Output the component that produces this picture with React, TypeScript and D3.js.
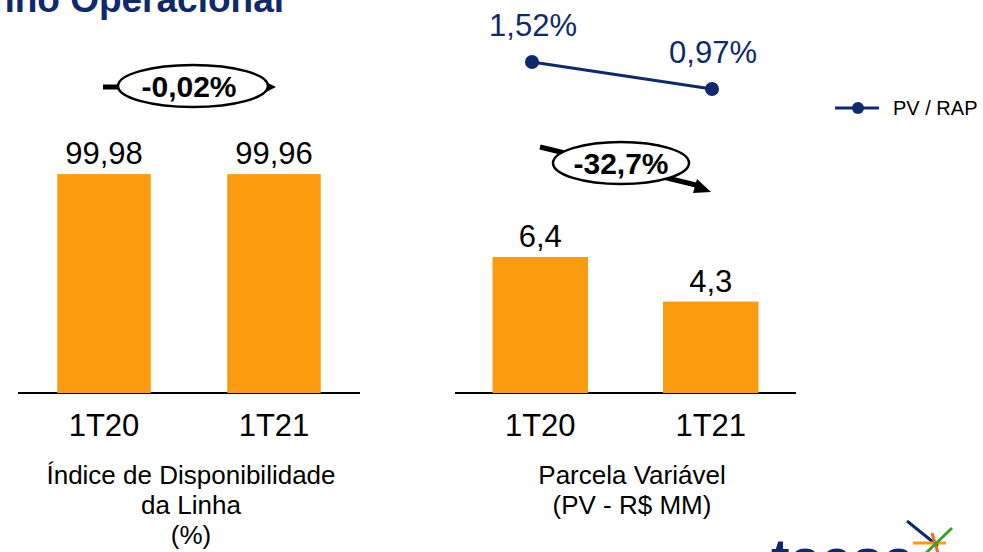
import React from "react";
import * as d3 from "d3";

const categories = ["1T20", "1T21"];
const disponibilidade = [99.98, 99.96];
const disponibilidadeLabels = ["99,98", "99,96"];
const parcelaVariavel = [6.4, 4.3];
const parcelaLabels = ["6,4", "4,3"];
const pvRap = [1.52, 0.97];
const pvRapLabels = ["1,52%", "0,97%"];
const deltaLeft = "-0,02%";
const deltaRight = "-32,7%";
const titleLeft = ["Índice de Disponibilidade", "da Linha", "(%)"];
const titleRight = ["Parcela Variável", "(PV - R$ MM)"];
const legendLabel = "PV / RAP";
const pageTitle = "Desempenho Operacional";

const W = 983;
const H = 552;
const ORANGE = "#FA9C0E";
const NAVY = "#0E2A6C";
const FONT = "Liberation Sans, Arial, sans-serif";

export default function App() {
  const baseY = 393;
  const xL = d3.scaleBand<string>().domain(categories).range([19, 359]).paddingInner(0.45).paddingOuter(0.225);
  const xR = d3.scaleBand<string>().domain(categories).range([455, 796]).paddingInner(0.44).paddingOuter(0.22);
  const yL = d3.scaleLinear().domain([0, 100]).range([baseY, 174.04]);
  const yR = d3.scaleLinear().domain([0, 6.4]).range([baseY, 257]);
  const xLine = d3.scalePoint<string>().domain(categories).range([532, 712]);
  const yLine = d3.scaleLinear().domain([0.97, 1.52]).range([89, 62]);
  const line = d3
    .line<number>()
    .x((_, i) => xLine(categories[i]) as number)
    .y((d) => yLine(d));

  return (
    <svg width={W} height={H} style={{ position: "absolute", left: 0, top: 0, background: "#fff" }} fontFamily={FONT}>
      {/* page title, cropped at top */}
      <text x={284} y={12} textAnchor="end" fontSize={37} fontWeight="bold" fill={NAVY}>
        {pageTitle}
      </text>

      {/* Left chart */}
      <line x1={18} x2={360} y1={baseY} y2={baseY} stroke="#000" strokeWidth={2} />
      {categories.map((c, i) => (
        <g key={"l" + c}>
          <rect x={xL(c)} y={yL(disponibilidade[i])} width={xL.bandwidth()} height={baseY - yL(disponibilidade[i])} fill={ORANGE} />
          <text x={(xL(c) as number) + xL.bandwidth() / 2} y={yL(disponibilidade[i]) - 10} textAnchor="middle" fontSize={31} fill="#000">
            {disponibilidadeLabels[i]}
          </text>
          <text x={(xL(c) as number) + xL.bandwidth() / 2} y={436} textAnchor="middle" fontSize={31} fill="#000">
            {c}
          </text>
        </g>
      ))}
      {titleLeft.map((t, i) => (
        <text key={t} x={191} y={484 + i * 30} textAnchor="middle" fontSize={26} fill="#000">
          {t}
        </text>
      ))}
      {/* left delta */}
      <line x1={103} x2={120} y1={87} y2={87} stroke="#000" strokeWidth={5} />
      <path d="M262,80 L276,87 L262,94 z" fill="#000" />
      <ellipse cx={193} cy={86} rx={75} ry={21} fill="#fff" stroke="#000" strokeWidth={2.5} />
      <text x={189} y={97} textAnchor="middle" fontSize={30} fontWeight="bold" fill="#000">
        {deltaLeft}
      </text>

      {/* Right chart */}
      <line x1={455} x2={796} y1={baseY} y2={baseY} stroke="#000" strokeWidth={2} />
      {categories.map((c, i) => (
        <g key={"r" + c}>
          <rect x={xR(c)} y={yR(parcelaVariavel[i])} width={xR.bandwidth()} height={baseY - yR(parcelaVariavel[i])} fill={ORANGE} />
          <text x={(xR(c) as number) + xR.bandwidth() / 2} y={yR(parcelaVariavel[i]) - 10} textAnchor="middle" fontSize={31} fill="#000">
            {parcelaLabels[i]}
          </text>
          <text x={(xR(c) as number) + xR.bandwidth() / 2} y={436} textAnchor="middle" fontSize={31} fill="#000">
            {c}
          </text>
        </g>
      ))}
      {titleRight.map((t, i) => (
        <text key={t} x={632} y={484 + i * 30} textAnchor="middle" fontSize={26} fill="#000">
          {t}
        </text>
      ))}
      {/* right delta */}
      <line x1={540} y1={147} x2={700} y2={186} stroke="#000" strokeWidth={5} />
      <path d="M697,179 L711,192 L693,193 z" fill="#000" />
      <ellipse cx={621} cy={163} rx={68} ry={21} fill="#fff" stroke="#000" strokeWidth={2.5} />
      <text x={621} y={174} textAnchor="middle" fontSize={30} fontWeight="bold" fill="#000">
        {deltaRight}
      </text>

      {/* PV/RAP line */}
      <path d={line(pvRap) || ""} fill="none" stroke={NAVY} strokeWidth={3} />
      {pvRap.map((v, i) => (
        <g key={"p" + i}>
          <circle cx={xLine(categories[i])} cy={yLine(v)} r={7} fill={NAVY} />
          <text x={(xLine(categories[i]) as number) + 1} y={yLine(v) - 26} textAnchor="middle" fontSize={31} fill={NAVY}>
            {pvRapLabels[i]}
          </text>
        </g>
      ))}

      {/* legend */}
      <line x1={835} x2={879} y1={108} y2={108} stroke={NAVY} strokeWidth={3} />
      <circle cx={858} cy={108} r={6} fill={NAVY} />
      <text x={893} y={115} fontSize={20} fill="#000">
        {legendLabel}
      </text>

      {/* logo, cropped at bottom */}
      <text x={771} y={578} fontSize={56} fontWeight="bold" fill={NAVY}>
        taesa
      </text>
      <line x1={907} y1={521} x2={938} y2={546} stroke={NAVY} strokeWidth={3} />
      <line x1={913} y1={543} x2={946} y2={543} stroke={ORANGE} strokeWidth={3} />
      <line x1={932} y1={533} x2={938} y2={553} stroke="#F26A1B" strokeWidth={3} />
      <line x1={952} y1={528} x2={926} y2={553} stroke="#3BA02C" strokeWidth={3} />
    </svg>
  );
}
